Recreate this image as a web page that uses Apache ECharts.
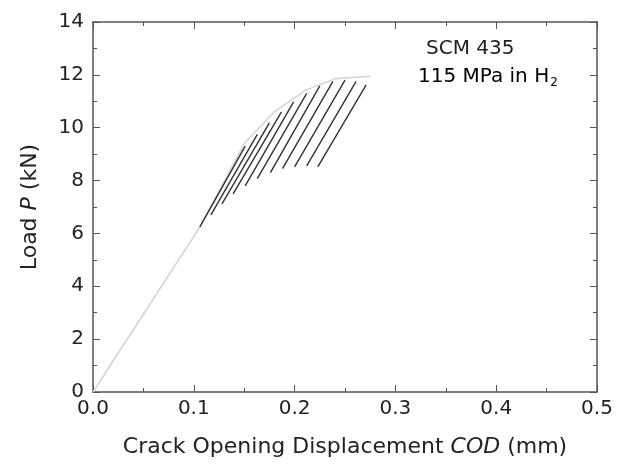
<!DOCTYPE html>
<html>
<head>
<meta charset="utf-8">
<script src="https://cdn.jsdelivr.net/npm/echarts@6/dist/echarts.min.js"></script>
<style>html,body{margin:0;padding:0;background:#fff}#c{width:624px;height:466px}</style>
</head>
<body>
<div id="c"></div>
<script>
// Loading envelope (faint grey)
const envelopeCOD = [0, 0.107, 0.15, 0.18, 0.21, 0.24, 0.275];
const envelopeP   = [0, 6.3, 9.4, 10.6, 11.4, 11.85, 11.95];
// Unloading / reloading compliance lines (dark)
const cycleLowCOD  = [0.106, 0.117, 0.128, 0.139, 0.151, 0.163, 0.176, 0.188, 0.200, 0.212, 0.223];
const cycleLowP    = [6.25, 6.70, 7.12, 7.50, 7.80, 8.07, 8.30, 8.45, 8.52, 8.56, 8.52];
const cycleHighCOD = [0.151, 0.163, 0.175, 0.187, 0.199, 0.212, 0.225, 0.238, 0.250, 0.261, 0.271];
const cycleHighP   = [9.30, 9.75, 10.18, 10.60, 10.98, 11.30, 11.58, 11.75, 11.80, 11.75, 11.62];
const xTicks = [0.0, 0.1, 0.2, 0.3, 0.4, 0.5];
const yTicks = [0, 2, 4, 6, 8, 10, 12, 14];

const envData = envelopeCOD.map((x, i) => [x, envelopeP[i]]);
const cycleData = [];
cycleLowCOD.forEach((x, i) => {
  cycleData.push([x, cycleLowP[i]]);
  cycleData.push([cycleHighCOD[i], cycleHighP[i]]);
  cycleData.push(null);
});

const font = '"DejaVu Sans", sans-serif';
const txt = '#222';
const axisColor = '#555';
const baseAxis = {
  axisLine: {show: true, onZero: false, lineStyle: {color: axisColor, width: 1.5}},
  axisTick: {show: true, inside: true, length: 7, lineStyle: {color: axisColor}},
  minorTick: {show: true, splitNumber: 2, length: 4, lineStyle: {color: axisColor}},
  splitLine: {show: false}
};

const chart = echarts.init(document.getElementById('c'), null, {renderer: 'canvas'});
chart.setOption({
  animation: false,
  backgroundColor: '#fff',
  grid: {left: 93, right: 27, top: 22, bottom: 74},
  xAxis: [
    Object.assign({}, baseAxis, {
      type: 'value', min: 0, max: 0.5, interval: 0.1, position: 'bottom',
      axisLabel: {color: txt, fontSize: 20, fontFamily: font, margin: 7,
        formatter: v => xTicks.includes(Math.round(v*10)/10) ? v.toFixed(1) : ''},
      name: '{n|Crack Opening Displacement }{i|COD}{n| (mm)}',
      nameLocation: 'middle', nameGap: 44,
      nameTextStyle: {rich: {
        n: {fontSize: 22, color: txt, fontFamily: font},
        i: {fontSize: 22, color: txt, fontFamily: font, fontStyle: 'italic'}}}
    }),
    Object.assign({}, baseAxis, {
      type: 'value', min: 0, max: 0.5, interval: 0.1, position: 'top',
      axisLabel: {show: false}
    })
  ],
  yAxis: [
    Object.assign({}, baseAxis, {
      type: 'value', min: 0, max: 14, interval: 2, position: 'left',
      axisLabel: {color: txt, fontSize: 20, fontFamily: font, margin: 9,
        formatter: v => yTicks.includes(v) ? String(v) : ''},
      name: '{n|Load }{i|P}{n| (kN)}',
      nameLocation: 'middle', nameGap: 52,
      nameTextStyle: {rich: {
        n: {fontSize: 22, color: txt, fontFamily: font},
        i: {fontSize: 22, color: txt, fontFamily: font, fontStyle: 'italic'}}}
    }),
    Object.assign({}, baseAxis, {
      type: 'value', min: 0, max: 14, interval: 2, position: 'right',
      axisLabel: {show: false}
    })
  ],
  graphic: [
    {type: 'text', left: 426, top: 39, style: {text: 'SCM 435', fontSize: 20, fontFamily: font, fill: txt}},
    {type: 'text', left: 418, top: 67, style: {
      text: '{a|115 MPa in H}{s|2}',
      rich: {a: {fontSize: 20, fontFamily: font, color: txt},
             s: {fontSize: 12, fontFamily: font, color: txt, padding: [12, 0, 0, 1]}}}}
  ],
  series: [
    {type: 'line', data: envData, symbol: 'none', lineStyle: {color: '#d2d2d2', width: 1.4}, z: 2},
    {type: 'line', data: cycleData, symbol: 'none', connectNulls: false, lineStyle: {color: '#333', width: 1.4}, z: 3}
  ]
});
</script>
</body>
</html>
